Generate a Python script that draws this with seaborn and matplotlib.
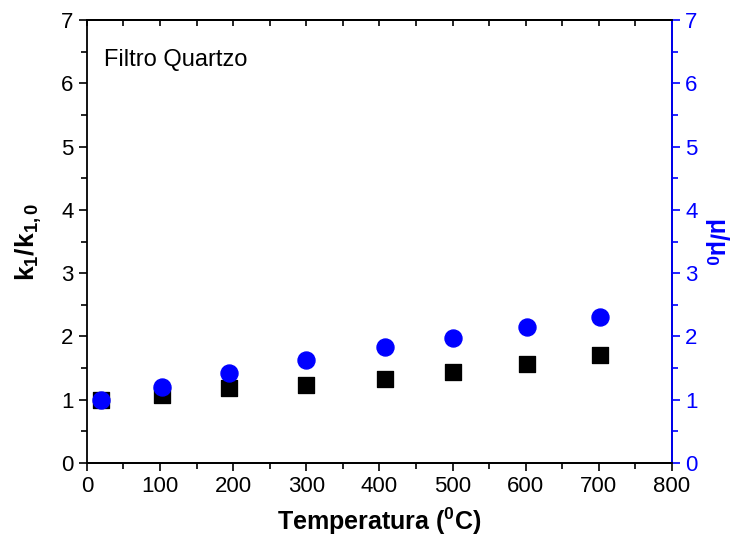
import numpy as np
import pandas as pd
import seaborn as sns
import matplotlib.pyplot as plt
from matplotlib.ticker import MultipleLocator

temp = [20, 103, 195, 300, 408, 500, 602, 702]
k_ratio = [1.0, 1.08, 1.18, 1.23, 1.32, 1.43, 1.56, 1.70]
mu_ratio = [1.0, 1.20, 1.42, 1.63, 1.83, 1.98, 2.15, 2.30]

sns.set_style('ticks', {'text.color': 'black', 'axes.labelcolor': 'black',
                        'xtick.color': 'black', 'ytick.color': 'black',
                        'axes.edgecolor': 'black'})
plt.rcParams['font.family'] = ['Liberation Sans', 'DejaVu Sans']
plt.rcParams['mathtext.fontset'] = 'custom'
plt.rcParams['mathtext.rm'] = 'Liberation Sans'
plt.rcParams['mathtext.it'] = 'Liberation Sans'
plt.rcParams['mathtext.bf'] = 'Liberation Sans:bold'

df = pd.DataFrame({'T': temp, 'k': k_ratio, 'mu': mu_ratio})

fig = plt.figure(figsize=(7.36, 5.44), dpi=100)
ax = fig.add_axes([0.118, 0.149, 0.795, 0.814])
sns.scatterplot(data=df, x='T', y='k', ax=ax, marker='s', s=140, color='black', edgecolor='black', zorder=3)
ax2 = ax.twinx()
sns.scatterplot(data=df, x='T', y='mu', ax=ax2, marker='o', s=150, color='blue', edgecolor='blue', zorder=3)

for a in (ax, ax2):
    a.set_xlim(0, 800)
    a.set_ylim(0, 7)
    a.yaxis.set_major_locator(MultipleLocator(1))
    a.yaxis.set_minor_locator(MultipleLocator(0.5))
ax.xaxis.set_major_locator(MultipleLocator(100))
ax.xaxis.set_minor_locator(MultipleLocator(50))

ax.tick_params(axis='both', which='major', labelsize=16, length=6, width=1.2, direction='out', colors='black')
ax.tick_params(axis='both', which='minor', length=4, width=1.2, direction='out', colors='black')
ax2.tick_params(axis='y', which='major', labelsize=16, length=6, width=1.2, colors='blue', direction='out')
ax2.tick_params(axis='y', which='minor', length=4, width=1.2, colors='blue', direction='out')

top = ax.secondary_xaxis('top')
top.xaxis.set_major_locator(MultipleLocator(100))
top.xaxis.set_minor_locator(MultipleLocator(50))
top.tick_params(which='both', direction='in', length=4, width=1.2, labeltop=False, colors='black')

for s in ax.spines.values():
    s.set_linewidth(1.3)
    s.set_color('black')
top.spines['top'].set_linewidth(1.3)
for s in ax2.spines.values():
    s.set_linewidth(1.3)
ax2.spines['right'].set_color('blue')
ax2.spines['left'].set_visible(False)

ax.set_xlabel(r'$\mathbf{Temperatura\ (^0C)}$', fontsize=18, labelpad=6, color='black')
ax.set_ylabel(r'$\mathbf{k_1/k_{1,0}}$', fontsize=19, labelpad=12, color='black')
ax2.set_ylabel(r'$\mathbf{\mu/\mu_0}$', fontsize=18, color='blue', rotation=270, va='bottom', labelpad=4)

ax.text(0.029, 0.91, 'Filtro Quartzo', transform=ax.transAxes, fontsize=17, va='center', color='black')

fig.savefig('out.png', dpi=100)
